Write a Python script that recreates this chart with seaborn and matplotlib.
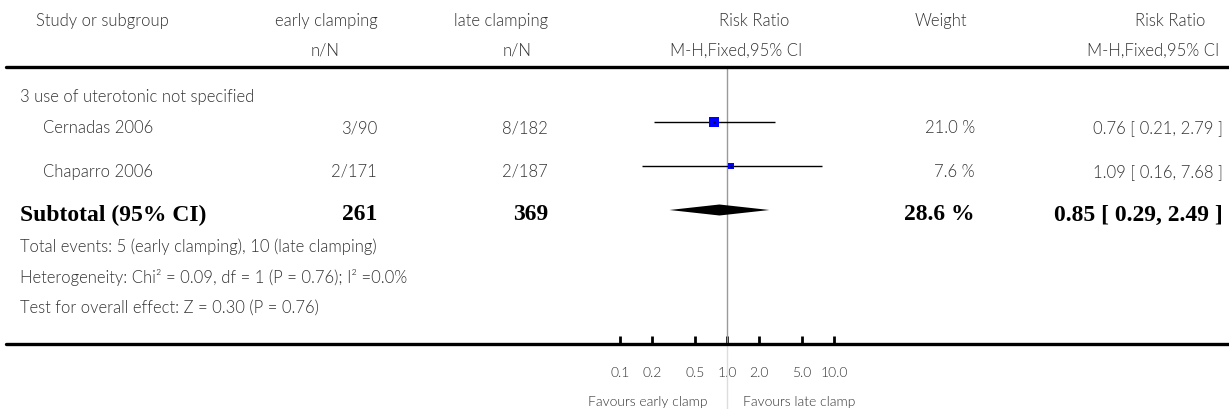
import numpy as np
import pandas as pd
import matplotlib
matplotlib.use("Agg")
import matplotlib.pyplot as plt
from matplotlib.lines import Line2D
from matplotlib.ticker import FixedLocator, FixedFormatter, NullLocator
import seaborn as sns

# ---------------- data ----------------
subgroup = "3 use of uterotonic not specified"
studies = ["Cernadas 2006", "Chaparro 2006"]
early_events = [3, 2]
early_total = [90, 171]
late_events = [8, 2]
late_total = [182, 187]
rr = [0.76, 1.09]
ci_lo = [0.21, 0.16]
ci_hi = [2.79, 7.68]
weights = [21.0, 7.6]

sub_rr = 0.85
sub_lo = 0.29
sub_hi = 2.49
sub_weight = 28.6
sub_early_total = 261
sub_late_total = 369
total_events_text = "Total events: 5 (early clamping), 10 (late clamping)"
heterogeneity_text = "Heterogeneity: Chi\u00b2 = 0.09, df = 1 (P = 0.76); I\u00b2 =0.0%"
overall_text = "Test for overall effect: Z = 0.30 (P = 0.76)"

tick_values = [0.1, 0.2, 0.5, 1.0, 2.0, 5.0, 10.0]
tick_labels = ["0.1", "0.2", "0.5", "1.0", "2.0", "5.0", "10.0"]
favours_left = "Favours early clamp"
favours_right = "Favours late clamp"

# ---------------- style ----------------
sns.set_style("white")
plt.rcParams["font.family"] = ["Lato", "DejaVu Sans"]
REG = "#333333"
SERIF = ["Liberation Serif", "DejaVu Serif"]
FS = 12
BFS = 17
WT = 300

W, H = 1229, 410
fig = plt.figure(figsize=(W / 100, H / 100), dpi=100)


def fx(x):
    return x / W


def fy(y):
    return 1 - y / H


def txt(x, y, s, ha="left", bold=False, size=FS, color=None):
    if bold:
        fig.text(fx(x), fy(y), s, ha=ha, va="center", fontsize=size,
                 fontweight="bold", family=SERIF, color=color or "black")
    else:
        fig.text(fx(x), fy(y), s, ha=ha, va="center", fontsize=size,
                 fontweight=WT, color=color or REG)


# ---------------- header ----------------
txt(36, 21, "Study or subgroup")
txt(378, 21, "early clamping", ha="right")
txt(325, 51, "n/N", ha="center")
txt(548, 21, "late clamping", ha="right")
txt(517, 51, "n/N", ha="center")
txt(754, 21, "Risk Ratio", ha="center")
txt(736, 51, "M-H,Fixed,95% CI", ha="center")
txt(941, 21, "Weight", ha="center")
txt(1205, 21, "Risk Ratio", ha="right")
txt(1219, 51, "M-H,Fixed,95% CI", ha="right")

fig.add_artist(Line2D([fx(6), fx(W)], [fy(68), fy(68)], color="black", lw=2.4))
fig.add_artist(Line2D([fx(6), fx(W)], [fy(345), fy(345)], color="black", lw=2.4))

# ---------------- rows text ----------------
row_y = [123, 167]
sub_y = 211
txt(20, 97, subgroup)
for i, name in enumerate(studies):
    ty = row_y[i] + 5
    txt(43, ty, name)
    txt(377, ty, f"{early_events[i]}/{early_total[i]}", ha="right")
    txt(548, ty, f"{late_events[i]}/{late_total[i]}", ha="right")
    txt(975, ty, f"{weights[i]:.1f} %", ha="right")
    txt(1223, ty, f"{rr[i]:.2f} [ {ci_lo[i]:.2f}, {ci_hi[i]:.2f} ]", ha="right")

txt(20, 215, "Subtotal (95% CI)", bold=True, size=BFS)
txt(377, 215, f"{sub_early_total}", ha="right", bold=True, size=BFS)
txt(548, 215, f"{sub_late_total}", ha="right", bold=True, size=BFS)
txt(975, 215, f"{sub_weight:.1f} %", ha="right", bold=True, size=BFS)
txt(1223, 215, f"{sub_rr:.2f} [ {sub_lo:.2f}, {sub_hi:.2f} ]", ha="right", bold=True, size=BFS)

txt(20, 247, total_events_text)
txt(20, 278, heterogeneity_text)
txt(20, 308, overall_text)

# ---------------- forest axes ----------------
x_one = 727.0
per_dec = 107.0
axL, axR = 580, 880
axT, axB = 68, 345
ax = fig.add_axes([fx(axL), fy(axB), fx(axR - axL), (axB - axT) / H])
ax.set_xscale("log")
ax.set_xlim(10 ** ((axL - x_one) / per_dec), 10 ** ((axR - x_one) / per_dec))
ax.set_ylim(axB, axT)
ax.patch.set_alpha(0)
for sp in ax.spines.values():
    sp.set_visible(False)

# reference line at 1
ax.plot([1, 1], [axT, axB], color="#9a9a9a", lw=1, zorder=1)
ax.plot([1, 1], [axB, 410], color="#dddddd", lw=1, zorder=1, clip_on=False)

# CI lines
ax.hlines(row_y, ci_lo, ci_hi, color="black", lw=1, zorder=2)

df = pd.DataFrame({"rr": rr, "y": row_y, "w": weights})
sns.scatterplot(data=df, x="rr", y="y", size="w", sizes=(15, 52), marker="s",
                color="#0000ff", linewidth=0, legend=False, ax=ax, zorder=3)
ax.plot(rr, row_y, ls="none", marker=".", ms=1.5, color="#000044", zorder=4)

# diamond
h = 5.5
ax.fill([sub_lo, sub_rr, sub_hi, sub_rr], [sub_y, sub_y - h, sub_y, sub_y + h],
        color="black", lw=0, zorder=3)

ax.xaxis.set_major_locator(FixedLocator(tick_values))
ax.xaxis.set_major_formatter(FixedFormatter(tick_labels))
ax.xaxis.set_minor_locator(NullLocator())
ax.set_yticks([])
ax.tick_params(axis="x", direction="in", length=6, width=2, color="black",
               pad=16, labelsize=10, labelcolor=REG, bottom=True)
for lab in ax.get_xticklabels():
    lab.set_fontweight(WT)
ax.set_xlabel("")
ax.set_ylabel("")

# favours labels
txt(708, 402, favours_left, ha="right", size=10)
txt(743, 402, favours_right, ha="left", size=10)

fig.savefig("out.png", dpi=100)
